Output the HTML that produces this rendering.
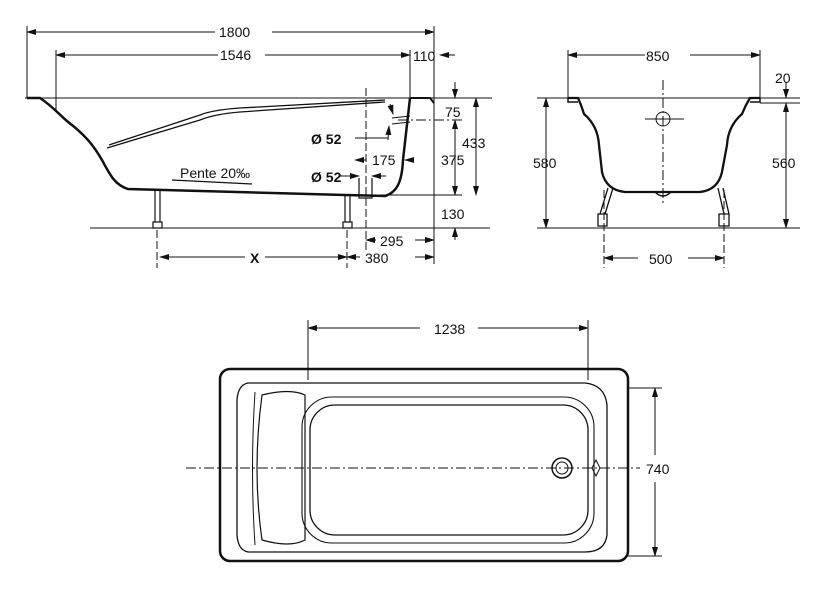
<!DOCTYPE html>
<html><head><meta charset="utf-8"><style>
html,body{margin:0;padding:0;background:#fff;}
svg{display:block}
text{font-family:"Liberation Sans",sans-serif;font-size:14px;fill:#111}
</style></head><body>
<svg width="823" height="594" viewBox="0 0 823 594" xmlns="http://www.w3.org/2000/svg">
<defs>
<marker id="a" markerWidth="10" markerHeight="8" refX="9" refY="4" orient="auto-start-reverse" markerUnits="userSpaceOnUse"><path d="M0,1 L10,4 L0,7 Z" fill="#111"/></marker>
</defs>
<g stroke="#111" fill="none" stroke-width="1">
<line x1="25" y1="98" x2="492" y2="98"/>
<line x1="90" y1="228" x2="490" y2="228"/>
<line x1="27" y1="26" x2="27" y2="98"/>
<line x1="56" y1="50" x2="56" y2="112"/>
<line x1="410" y1="50" x2="410" y2="98"/>
<line x1="434" y1="26" x2="434" y2="264"/>
<line x1="27" y1="32" x2="215" y2="32" marker-start="url(#a)"/>
<line x1="272" y1="32" x2="434" y2="32" marker-end="url(#a)"/>
<line x1="56" y1="55" x2="218" y2="55" marker-start="url(#a)"/>
<line x1="265" y1="55" x2="410" y2="55" marker-end="url(#a)"/>
<line x1="440" y1="55" x2="455" y2="55" marker-start="url(#a)"/>
<path d="M27,98 L40,98 C55,108 62,118 72,125 C88,138 95,148 102,160 C110,175 115,185 128,189 L345,195 L385,196 C398,192 402,180 403,160 L410,98" stroke-width="2.5"/>
<path d="M410,98 L430,98 L434,103" stroke-width="2"/>
<path d="M107,148 L200,120 Q215,114 240,112 L385,102" stroke-width="1.3"/>
<path d="M109,145 L200,115 Q212,110 240,108 L385,100" stroke-width="1.3"/>
<line x1="172" y1="180" x2="252" y2="184" stroke-width="1.3"/>
<path d="M155,190 L155,222 L160,222 L160,190 M153,222 h9 v6 h-9z" stroke-width="1.2"/>
<path d="M345,195 L345,222 L350,222 L350,195 M343,222 h9 v6 h-9z" stroke-width="1.2"/>
<path d="M359,178 L359,198 L372,198 L372,178" stroke-width="1.2"/>
<line x1="366" y1="88" x2="366" y2="250" stroke-dasharray="8,3"/>
<line x1="157" y1="230" x2="157" y2="268" stroke-dasharray="8,3"/>
<line x1="347" y1="230" x2="347" y2="268" stroke-dasharray="8,3"/>
<line x1="380" y1="195" x2="462" y2="195"/>
<line x1="398" y1="120" x2="462" y2="120" stroke-dasharray="10,3,2,3"/>
<line x1="392" y1="118" x2="410" y2="116"/><line x1="392" y1="124" x2="410" y2="122"/>
<line x1="390" y1="104" x2="393" y2="114" marker-end="url(#a)"/>
<line x1="388" y1="140" x2="389" y2="126" marker-end="url(#a)"/>
<line x1="355" y1="138" x2="388" y2="138"/>
<line x1="160" y1="257" x2="245" y2="257" marker-start="url(#a)"/>
<line x1="265" y1="257" x2="347" y2="257" marker-end="url(#a)"/>
<line x1="347" y1="257" x2="360" y2="257" marker-start="url(#a)"/>
<line x1="415" y1="257" x2="434" y2="257" marker-end="url(#a)"/>
<line x1="366" y1="240" x2="376" y2="240" marker-start="url(#a)"/>
<line x1="415" y1="240" x2="434" y2="240" marker-end="url(#a)"/>
<line x1="340" y1="176" x2="359" y2="176" marker-end="url(#a)"/>
<line x1="372" y1="176" x2="386" y2="176" marker-start="url(#a)"/>
<line x1="355" y1="160" x2="366" y2="160" marker-start="url(#a)"/>
<line x1="405" y1="160" x2="414" y2="160" marker-start="url(#a)"/>
<line x1="476" y1="98" x2="476" y2="195" marker-start="url(#a)" marker-end="url(#a)"/>
<line x1="455" y1="82" x2="455" y2="98" marker-end="url(#a)"/>
<line x1="455" y1="120" x2="455" y2="195" marker-start="url(#a)" marker-end="url(#a)"/>
<line x1="455" y1="240" x2="455" y2="228" marker-end="url(#a)"/>
<line x1="537" y1="98" x2="800" y2="98"/>
<line x1="760" y1="103" x2="800" y2="103"/>
<line x1="537" y1="228" x2="800" y2="228"/>
<line x1="568" y1="50" x2="568" y2="98"/>
<line x1="760" y1="50" x2="760" y2="98"/>
<line x1="568" y1="55" x2="645" y2="55" marker-start="url(#a)"/>
<line x1="690" y1="55" x2="760" y2="55" marker-end="url(#a)"/>
<line x1="546" y1="98" x2="546" y2="228" marker-start="url(#a)" marker-end="url(#a)"/>
<line x1="786" y1="82" x2="786" y2="98" marker-end="url(#a)"/>
<line x1="786" y1="103" x2="786" y2="228" marker-start="url(#a)" marker-end="url(#a)"/>
<line x1="604" y1="258" x2="638" y2="258" marker-start="url(#a)"/>
<line x1="688" y1="258" x2="724" y2="258" marker-end="url(#a)"/>
<line x1="604" y1="190" x2="604" y2="268" stroke-dasharray="8,3"/>
<line x1="724" y1="190" x2="724" y2="268" stroke-dasharray="8,3"/>
<line x1="663" y1="80" x2="663" y2="205" stroke-dasharray="10,3,2,3"/>
<line x1="645" y1="119" x2="684" y2="119"/>
<circle cx="663" cy="119" r="7"/>
<path d="M568,98 L578,98 L581,105 L584,114 Q598,126 599,145 L602,172 Q606,190 625,192 L700,192 Q718,190 722,172 L727,145 Q728,126 742,114 L746,105 L750,98 L760,98" stroke-width="2.3"/>
<path d="M568,98 v4 h10 M760,98 v4 h-10" stroke-width="1.5"/>
<path d="M608,188 L600,214 M613,188 L605,214 M598,214 h9 v12 h-9z" stroke-width="1.3"/>
<path d="M718,188 L724,214 M723,188 L729,214 M719,214 h10 v12 h-10z" stroke-width="1.3"/>
<path d="M655,192 Q663,200 671,192" stroke-width="1.3"/>
<rect x="220" y="369" width="408" height="192" rx="10" stroke-width="2.5"/>
<path d="M248,383 L585,383 Q605,385 607,405 L607,535 Q605,552 585,552 L248,552 Q238,550 237,535 L237,400 Q238,385 248,383Z" stroke-width="1.3"/>
<path d="M262,395 Q290,388 305,395 L305,540 Q290,548 262,540 Q252,470 262,395Z" stroke-width="1.2"/>
<path d="M255,392 Q250,470 255,545" stroke-width="1"/>
<rect x="310" y="405" width="278" height="130" rx="25" stroke-width="1.3"/>
<rect x="302" y="397" width="292" height="146" rx="30" stroke-width="1.1"/>
<line x1="186" y1="468" x2="640" y2="468" stroke-dasharray="10,3,2,3"/>
<circle cx="562" cy="468" r="10" stroke-width="1.5"/>
<circle cx="562" cy="468" r="6"/>
<path d="M596,460 L600,468 L596,476 L592,468Z"/>
<line x1="308" y1="320" x2="308" y2="380"/>
<line x1="588" y1="320" x2="588" y2="380"/>
<line x1="308" y1="328" x2="420" y2="328" marker-start="url(#a)"/>
<line x1="478" y1="328" x2="588" y2="328" marker-end="url(#a)"/>
<line x1="628" y1="388" x2="662" y2="388"/>
<line x1="628" y1="556" x2="662" y2="556"/>
<line x1="655" y1="388" x2="655" y2="455" marker-start="url(#a)"/>
<line x1="655" y1="482" x2="655" y2="556" marker-end="url(#a)"/>
</g>
<text x="219" y="37">1800</text>
<text x="220" y="60">1546</text>
<text x="413" y="61">110</text>
<text x="445" y="117">75</text>
<text x="311" y="144" font-weight="bold">Ø 52</text>
<text x="372" y="165">175</text>
<text x="311" y="182" font-weight="bold">Ø 52</text>
<text x="180" y="178">Pente 20‰</text>
<text x="441" y="165">375</text>
<text x="462" y="148">433</text>
<text x="441" y="219">130</text>
<text x="380" y="246">295</text>
<text x="365" y="263">380</text>
<text x="250" y="263" font-weight="bold">X</text>
<text x="646" y="61">850</text>
<text x="775" y="83">20</text>
<text x="533" y="168">580</text>
<text x="772" y="168">560</text>
<text x="649" y="264">500</text>
<text x="434" y="334">1238</text>
<text x="646" y="474">740</text>
</svg>
</body></html>
